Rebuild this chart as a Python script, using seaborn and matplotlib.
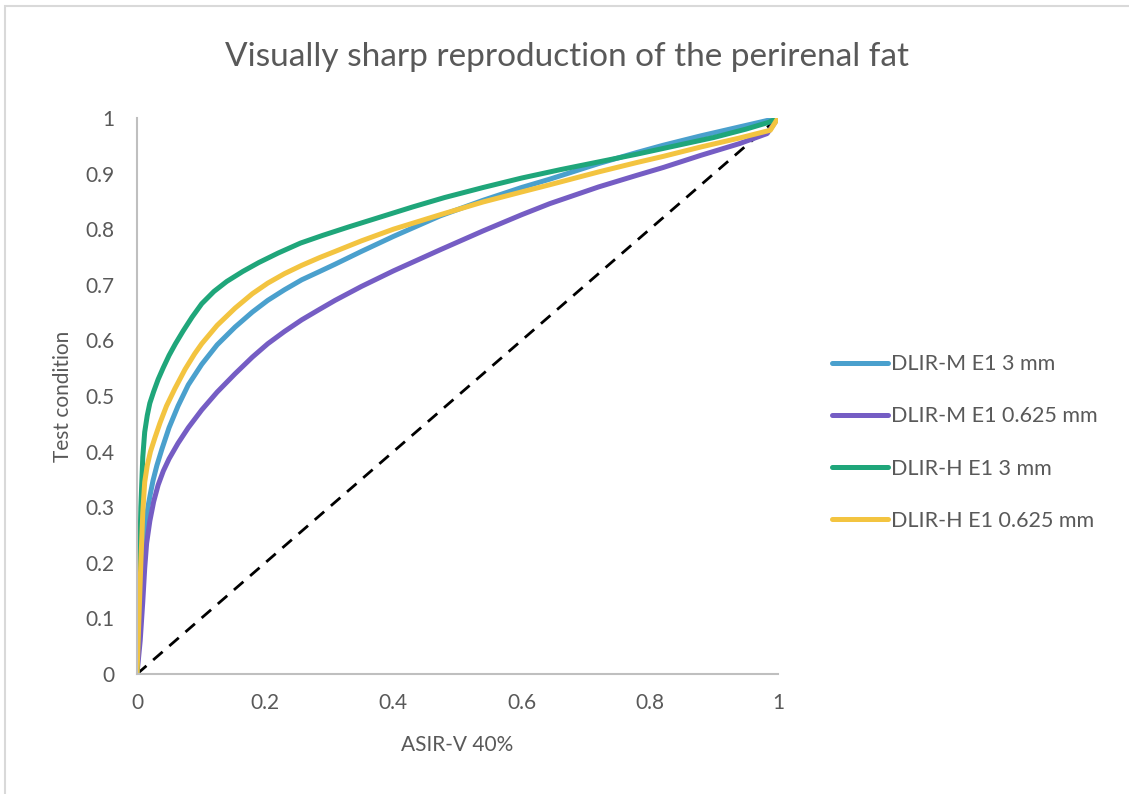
import numpy as np
import pandas as pd
import matplotlib
matplotlib.use("Agg")
import matplotlib.pyplot as plt
from matplotlib.patches import Rectangle
from matplotlib.ticker import FuncFormatter
import seaborn as sns

# ---- data ----
series_names = ["DLIR-M E1 3 mm", "DLIR-M E1 0.625 mm", "DLIR-H E1 3 mm", "DLIR-H E1 0.625 mm"]

m3_x = [0, 0.004, 0.008, 0.012, 0.017, 0.021, 0.025, 0.031, 0.039, 0.050, 0.064, 0.080, 0.101,
        0.125, 0.153, 0.180, 0.204, 0.230, 0.257, 0.285, 0.309, 0.350, 0.400, 0.473, 0.540,
        0.600, 0.644, 0.720, 0.780, 0.821, 0.880, 0.940, 1.0]
m3_y = [0, 0.100, 0.200, 0.260, 0.300, 0.325, 0.348, 0.375, 0.405, 0.443, 0.482, 0.520, 0.557,
        0.592, 0.624, 0.651, 0.672, 0.691, 0.709, 0.724, 0.737, 0.760, 0.787, 0.824, 0.852,
        0.875, 0.890, 0.918, 0.938, 0.951, 0.968, 0.984, 1.0]

m0625_x = [0, 0.005, 0.009, 0.012, 0.015, 0.020, 0.026, 0.033, 0.041, 0.050, 0.064, 0.080, 0.101,
           0.125, 0.153, 0.180, 0.204, 0.230, 0.257, 0.285, 0.309, 0.350, 0.400, 0.473, 0.540,
           0.600, 0.644, 0.720, 0.780, 0.821, 0.880, 0.940, 0.983, 1.0]
m0625_y = [0, 0.060, 0.130, 0.190, 0.235, 0.275, 0.310, 0.340, 0.365, 0.387, 0.415, 0.443, 0.475,
           0.507, 0.540, 0.570, 0.594, 0.616, 0.637, 0.656, 0.672, 0.697, 0.725, 0.763, 0.797,
           0.826, 0.846, 0.876, 0.897, 0.911, 0.933, 0.954, 0.972, 1.0]

h3_x = [0, 0.003, 0.006, 0.009, 0.012, 0.016, 0.020, 0.026, 0.033, 0.041, 0.050, 0.060, 0.072,
        0.086, 0.101, 0.120, 0.140, 0.165, 0.190, 0.220, 0.255, 0.290, 0.330, 0.380, 0.430,
        0.480, 0.540, 0.600, 0.660, 0.720, 0.780, 0.840, 0.900, 0.950, 0.985, 1.0]
h3_y = [0, 0.150, 0.300, 0.390, 0.435, 0.465, 0.487, 0.508, 0.530, 0.551, 0.573, 0.594, 0.617,
        0.642, 0.666, 0.688, 0.706, 0.724, 0.740, 0.757, 0.775, 0.789, 0.804, 0.822, 0.840,
        0.857, 0.875, 0.892, 0.907, 0.921, 0.935, 0.950, 0.965, 0.980, 0.992, 1.0]

h0625_x = [0, 0.003, 0.006, 0.009, 0.012, 0.016, 0.021, 0.028, 0.036, 0.046, 0.059, 0.075, 0.090,
           0.101, 0.125, 0.153, 0.180, 0.204, 0.230, 0.257, 0.285, 0.309, 0.350, 0.400, 0.473,
           0.540, 0.600, 0.644, 0.720, 0.780, 0.821, 0.880, 0.940, 0.988, 1.0]
h0625_y = [0, 0.100, 0.200, 0.290, 0.345, 0.375, 0.400, 0.425, 0.452, 0.482, 0.513, 0.548, 0.576,
           0.594, 0.627, 0.658, 0.684, 0.703, 0.720, 0.735, 0.749, 0.760, 0.779, 0.800, 0.826,
           0.849, 0.867, 0.880, 0.903, 0.920, 0.931, 0.948, 0.964, 0.978, 1.0]

diag_x = [0, 1]
diag_y = [0, 1]

x_ticks = [0, 0.2, 0.4, 0.6, 0.8, 1.0]
y_ticks = [0, 0.1, 0.2, 0.3, 0.4, 0.5, 0.6, 0.7, 0.8, 0.9, 1.0]

title = "Visually sharp reproduction of the perirenal fat"
x_label = "ASIR-V 40%"
y_label = "Test condition"

colors = ["#4AA0CD", "#755DC4", "#1FA67A", "#F3C440"]

# ---- styling ----
sns.set_theme(style="white")
plt.rcParams["font.family"] = ["Lato", "DejaVu Sans"]
text_color = "#595959"

fig = plt.figure(figsize=(11.29, 7.94), dpi=100)
ax = fig.add_axes([137 / 1129, 1 - 674 / 794, 641 / 1129, 556 / 794])

# diagonal reference line
sns.lineplot(x=diag_x, y=diag_y, ax=ax, color="black", linewidth=2.0,
             linestyle=(0, (4.5, 3.2)), legend=False)

all_x = [m3_x, m0625_x, h3_x, h0625_x]
all_y = [m3_y, m0625_y, h3_y, h0625_y]
for name, xs, ys, c in zip(series_names, all_x, all_y, colors):
    df = pd.DataFrame({"x": xs, "y": ys})
    sns.lineplot(data=df, x="x", y="y", ax=ax, color=c, linewidth=3.6,
                 label=name, sort=False, estimator=None,
                 solid_capstyle="round", solid_joinstyle="round")

ax.set_xlim(0, 1)
ax.set_ylim(0, 1)
ax.set_xticks(x_ticks)
ax.set_yticks(y_ticks)
fmt = FuncFormatter(lambda v, p: f"{v:g}")
ax.xaxis.set_major_formatter(fmt)
ax.yaxis.set_major_formatter(fmt)
ax.tick_params(axis="both", length=0, labelsize=15, labelcolor=text_color)
ax.tick_params(axis="y", pad=16)
ax.tick_params(axis="x", pad=14)

for s in ["top", "right"]:
    ax.spines[s].set_visible(False)
for s in ["left", "bottom"]:
    ax.spines[s].set_color("#BFBFBF")
    ax.spines[s].set_linewidth(1.5)
ax.grid(False)

ax.set_xlabel(x_label, fontsize=15, color=text_color)
ax.set_ylabel(y_label, fontsize=15, color=text_color)
ax.xaxis.label.set_va("center")
ax.yaxis.label.set_va("center")
ax.xaxis.set_label_coords(0.5, -(745 - 674) / 556)
ax.yaxis.set_label_coords(-(137 - 63) / 641, 0.5)

fig.text(567 / 1129, 1 - 57 / 794, title, ha="center", va="center",
         fontsize=24, color=text_color)

handles, labels = ax.get_legend_handles_labels()
if ax.get_legend() is not None:
    ax.get_legend().remove()
leg = fig.legend(handles, labels, loc="center left",
                 bbox_to_anchor=(832 / 1129, 1 - 442.5 / 794),
                 frameon=False, fontsize=15.5, handlelength=2.6,
                 handletextpad=0.15, labelspacing=1.5, borderpad=0,
                 borderaxespad=0)
for t in leg.get_texts():
    t.set_color(text_color)
for h in leg.get_lines():
    h.set_linewidth(3.6)
    h.set_solid_capstyle("round")

# outer chart border (light gray)
fig.patches.append(Rectangle((5 / 1129, -0.5), 2.0, 0.5 + 1 - 5.5 / 794,
                             transform=fig.transFigure, fill=False,
                             edgecolor="#D9D9D9", linewidth=1.5))

fig.savefig("out.png", dpi=100)
